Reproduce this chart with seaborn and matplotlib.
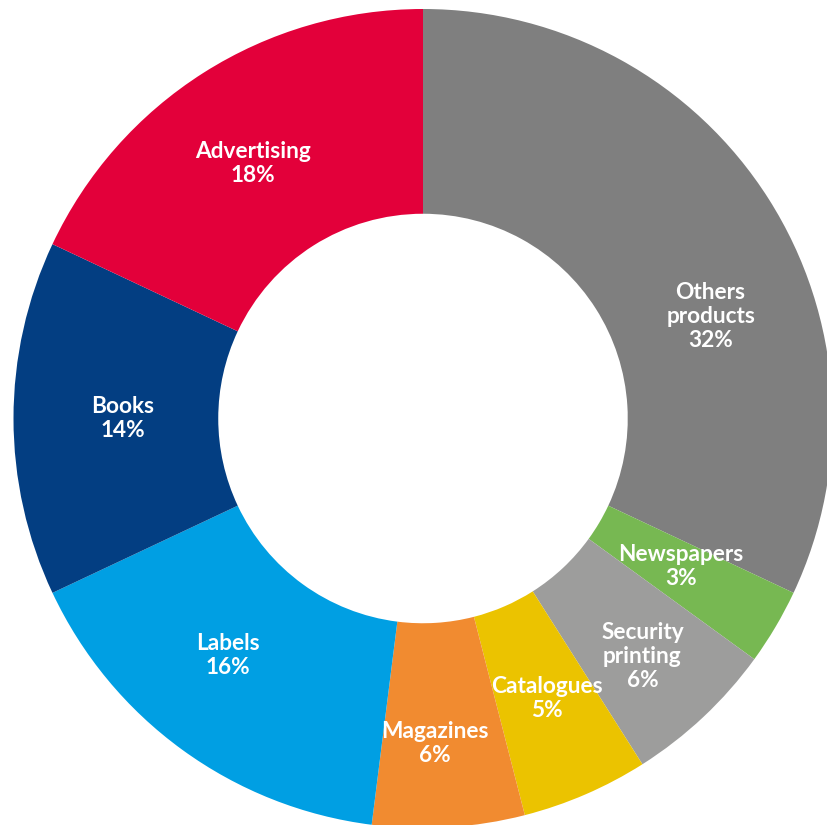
import matplotlib
matplotlib.use("Agg")
import matplotlib.pyplot as plt
import seaborn as sns
import numpy as np

# Market share by product segment, clockwise from 12 o'clock
segments = ["Others\nproducts", "Newspapers", "Security\nprinting", "Catalogues",
            "Magazines", "Labels", "Books", "Advertising"]
shares = [32, 3, 6, 5, 6, 16, 14, 18]
colors = ["#7f7f7f", "#77b852", "#9d9d9c", "#ebc300",
          "#f18b30", "#009fe3", "#033e82", "#e3003a"]

# Label placement: radial position (fraction of outer radius) and angular shift (deg)
label_radius = [0.745, 0.725, 0.79, 0.748, 0.794, 0.75, 0.733, 0.748]
label_shift = [-12.9, 0.8, -0.5, 0.5, -1.5, -3.4, 0, 1.3]

sns.set_theme(style="white")
plt.rcParams["font.family"] = ["Lato", "DejaVu Sans"]

W, H = 828, 825
cx, cy, R = 423, 418.5, 409.5
fig = plt.figure(figsize=(W / 100, H / 100), dpi=100)
ax = fig.add_axes([0, 0, 1, 1])

wedges, _ = ax.pie(shares, colors=colors, startangle=90, counterclock=False,
                   radius=1.0, wedgeprops=dict(width=0.5, linewidth=0))

for w, name, val, rf, sh in zip(wedges, segments, shares, label_radius, label_shift):
    mid = np.deg2rad((w.theta1 + w.theta2) / 2 + sh)
    ax.text(rf * np.cos(mid), rf * np.sin(mid), f"{name}\n{val}%",
            ha="center", va="center", color="white", fontsize=16.3,
            fontweight="bold", linespacing=1.18)

ax.set_xlim(-cx / R, (W - cx) / R)
ax.set_ylim(-(H - cy) / R, cy / R)
ax.set_aspect("equal")
ax.axis("off")

fig.savefig("out.png", dpi=100)
